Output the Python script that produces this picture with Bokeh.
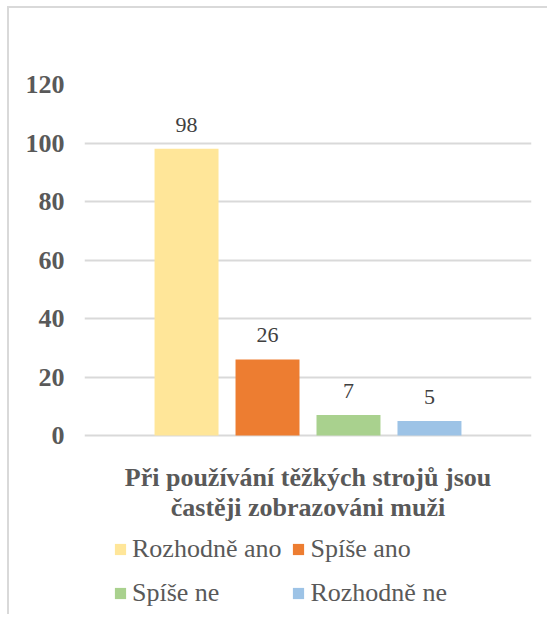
from bokeh.plotting import figure
from bokeh.models import ColumnDataSource, LabelSet, Label, FixedTicker, Range1d
from bokeh.embed import file_html
from bokeh.resources import INLINE

categories = ["Rozhodně ano", "Spíše ano", "Spíše ne", "Rozhodně ne"]
values = [98, 26, 7, 5]
colors = ["#FFE699", "#ED7D31", "#A9D18E", "#9DC3E6"]
title_line1 = "Při používání těžkých strojů jsou"
title_line2 = "častěji zobrazováni muži"
y_ticks = [0, 20, 40, 60, 80, 100, 120]

FONT = "Liberation Serif"

src = ColumnDataSource(dict(
    x=list(range(len(categories))),
    top=values,
    label=categories,
    color=colors,
    text=[str(v) for v in values],
))

# content origin at image (9, 8); frame x 84..531, y 84..616; 0 at y=435
px_per_unit = (435 - 84) / 120.0
y_bottom = -(616 - 435) / px_per_unit

p = figure(width=540, height=608, output_backend="svg", toolbar_location=None,
           x_range=Range1d(-1.26, 4.26), y_range=Range1d(y_bottom, 120),
           min_border_left=75, min_border_right=18, min_border_top=76,
           min_border_bottom=0)
p.styles = {"margin-left": "7px", "margin-top": "6px",
            "border-left": "2px solid #d9d9d9", "border-top": "2px solid #d9d9d9"}
p.outline_line_color = None
p.xaxis.visible = False

r = p.vbar(x="x", top="top", width=0.79, bottom=0, color="color", source=src,
           legend_field="label", line_color=None)

labels = LabelSet(x="x", y="top", text="text", source=src, y_offset=17,
                  text_align="center", text_baseline="alphabetic",
                  text_font=FONT, text_font_size="22px", text_color="#404040")
p.add_layout(labels)

for txt, off in ((title_line1, -42), (title_line2, -72)):
    p.add_layout(Label(x=1.5, y=0, y_offset=off, text=txt, text_align="center",
                       text_baseline="alphabetic", text_font=FONT,
                       text_font_size="26px", text_font_style="bold",
                       text_color="#595959"))

# grid
p.xgrid.grid_line_color = None
p.ygrid.grid_line_color = "#d9d9d9"
p.ygrid.grid_line_width = 2
p.ygrid.ticker = FixedTicker(ticks=y_ticks)

# y axis
p.yaxis.ticker = FixedTicker(ticks=y_ticks)
p.yaxis.axis_line_color = None
p.yaxis.major_tick_line_color = None
p.yaxis.minor_tick_line_color = None
p.yaxis.major_tick_in = 0
p.yaxis.major_tick_out = 0
p.yaxis.minor_tick_in = 0
p.yaxis.minor_tick_out = 0
p.yaxis.major_label_standoff = 20
p.yaxis.major_label_text_font = FONT
p.yaxis.major_label_text_font_size = "26px"
p.yaxis.major_label_text_font_style = "bold"
p.yaxis.major_label_text_color = "#595959"

# legend
p.legend.location = (29, 6)
p.legend.orientation = "horizontal"
p.legend.ncols = 2
p.legend.padding = 0
p.legend.margin = 0
p.legend.spacing = 10
p.legend.glyph_width = 14
p.legend.glyph_height = 14
p.legend.label_standoff = 5
p.legend.label_height = 34
p.legend.label_text_font = FONT
p.legend.label_text_font_size = "26px"
p.legend.label_text_color = "#595959"
p.legend.border_line_color = None
p.legend.background_fill_alpha = 0

open("out.html", "w").write(file_html(p, INLINE))
